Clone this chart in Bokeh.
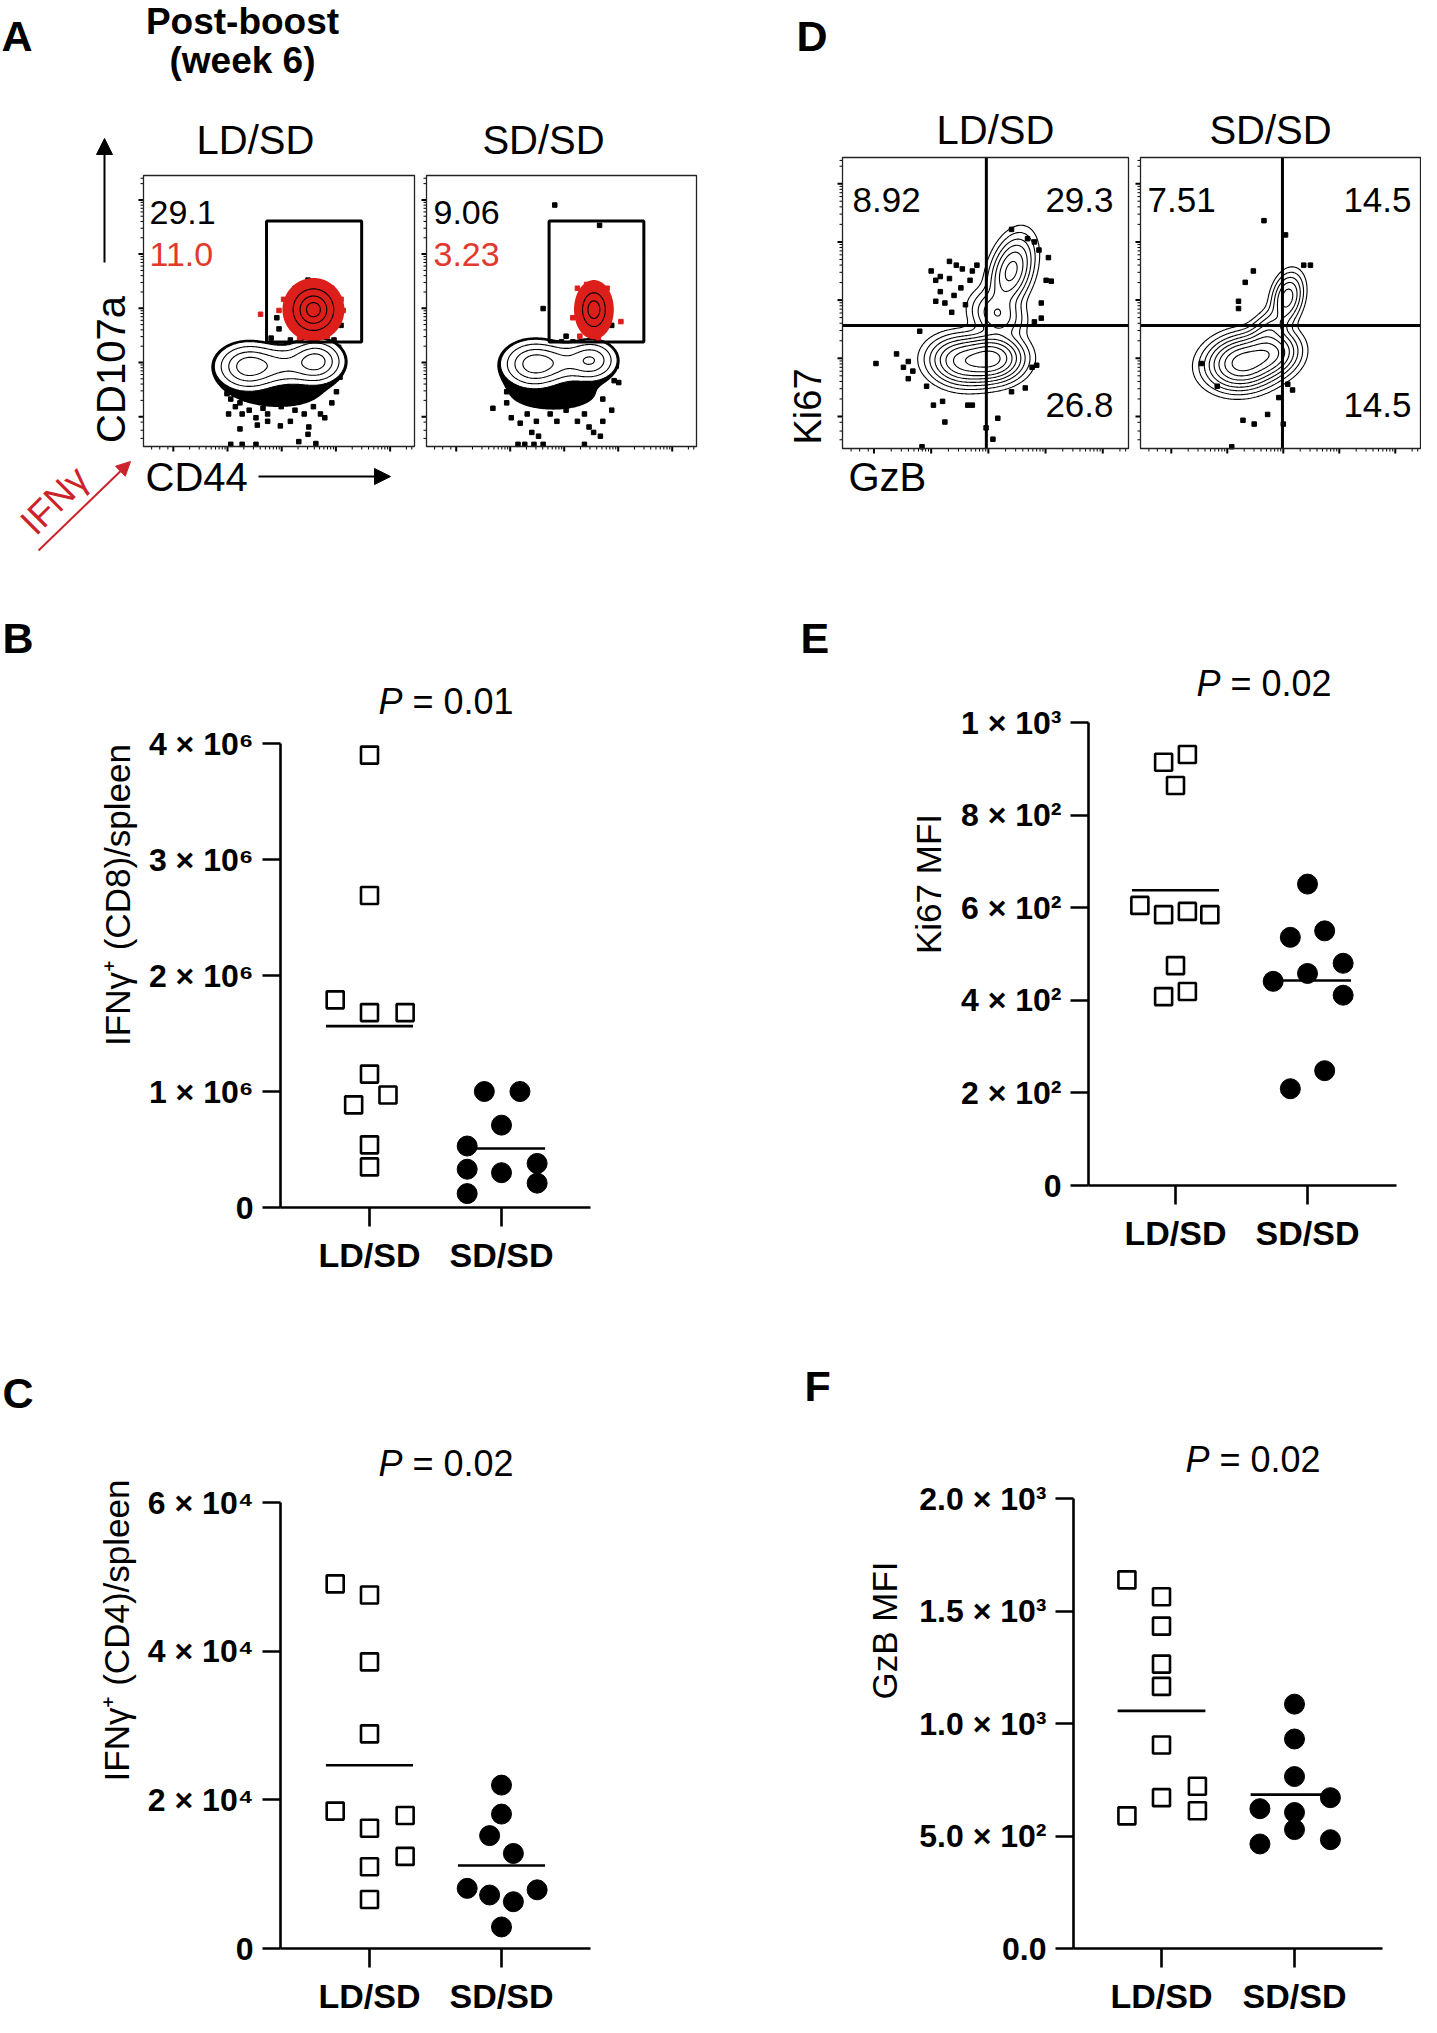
import numpy as np
from bokeh.plotting import figure
from bokeh.layouts import row, column
from bokeh.models import Label, Range1d, FixedTicker, Arrow, NormalHead
from bokeh.embed import file_html
from bokeh.resources import INLINE

FONT = "Liberation Sans"

# ---------------- scatter data (panels B, C, E, F) ----------------
groups = ["LD/SD", "SD/SD"]

b_ld = [3.90e6, 2.69e6, 1.79e6, 1.68e6, 1.68e6, 1.15e6, 0.97e6, 0.885e6, 0.54e6, 0.35e6]
b_sd = [1.00e6, 1.00e6, 0.71e6, 0.53e6, 0.33e6, 0.30e6, 0.38e6, 0.21e6, 0.12e6]
c_ld = [4.91e4, 4.76e4, 3.86e4, 2.89e4, 1.85e4, 1.79e4, 1.62e4, 1.24e4, 1.10e4, 0.66e4]
c_sd = [2.20e4, 1.81e4, 1.52e4, 1.28e4, 0.81e4, 0.72e4, 0.63e4, 0.79e4, 0.29e4]
e_ld = [914, 931, 864, 605, 585, 592, 585, 475, 419, 408]
e_sd = [651, 536, 550, 480, 458, 441, 411, 248, 209]
f_ld = [1640, 1565, 1434, 1265, 1166, 905, 722, 671, 613, 590]
f_sd = [1087, 932, 765, 671, 622, 605, 529, 465, 484]

# horizontal spread of the dots (fraction of category spacing)
b_ld_dx = [0, 0, -0.26, 0, 0.27, 0, 0.14, -0.12, 0, 0]
b_sd_dx = [-0.13, 0.14, 0, -0.26, -0.26, 0, 0.27, 0.27, -0.26]
c_ld_dx = [-0.26, 0, 0, 0, -0.26, 0.27, 0, 0.27, 0, 0]
c_sd_dx = [0, 0, -0.09, 0.09, -0.26, -0.09, 0.09, 0.27, 0]
e_ld_dx = [-0.09, 0.09, 0, -0.27, -0.09, 0.09, 0.26, 0, 0.09, -0.09]
e_sd_dx = [0, -0.13, 0.13, 0.27, 0, -0.26, 0.27, 0.13, -0.13]
f_ld_dx = [-0.26, 0, 0, 0, 0, 0, 0.27, 0, 0.27, -0.26]
f_sd_dx = [0, 0, 0, 0.27, -0.26, 0, 0, -0.26, 0.27]

b_ticks = [0, 1000000, 2000000, 3000000, 4000000]
b_tick_labels = ["0", "1 × 10⁶", "2 × 10⁶", "3 × 10⁶", "4 × 10⁶"]
c_ticks = [0, 20000, 40000, 60000]
c_tick_labels = ["0", "2 × 10⁴", "4 × 10⁴", "6 × 10⁴"]
e_ticks = [0, 200, 400, 600, 800, 1000]
e_tick_labels = ["0", "2 × 10²", "4 × 10²", "6 × 10²", "8 × 10²", "1 × 10³"]
f_ticks = [0, 500, 1000, 1500, 2000]
f_tick_labels = ["0.0", "5.0 × 10²", "1.0 × 10³", "1.5 × 10³", "2.0 × 10³"]

p_values = ["0.01", "0.02", "0.02", "0.02"]  # B, C, E, F

# ---------------- flow cytometry data (panels A, D) ----------------
# populations: (centre x, centre y, sd along u, sd along v, weight, angle deg)
a_ld_main = [(38.6, 29.5, 5.5, 4.0, 1.0, 0), (63.6, 31.4, 4.8, 3.8, 0.95, 0), (51.0, 30.0, 7.0, 3.6, 0.45, 0)]
a_ld_tail = [(50.0, 20.0, 12.5, 4.6, 1.0, 0)]
a_ld_red = [(62.7, 50.5, 4.5, 4.6, 1.0, 0)]
a_sd_main = [(39.8, 30.4, 5.5, 4.0, 1.0, 0), (61.0, 31.8, 4.5, 3.5, 0.75, 0), (50.0, 31.0, 6.5, 3.5, 0.4, 0)]
a_sd_tail = [(47.0, 19.5, 13.0, 5.0, 1.0, 0)]
a_sd_red = [(62.0, 50.5, 2.9, 4.3, 1.0, 0)]
d_ld_pops = [(42.0, 30.0, 6.0, 4.2, 0.75, -5), (52.5, 31.0, 5.5, 4.0, 1.0, 0),
             (59.0, 61.0, 6.5, 3.6, 0.55, 72), (54.0, 46.0, 4.0, 5.0, 0.3, 60)]
d_sd_pops = [(36.5, 29.5, 6.5, 4.5, 1.0, 8), (47.0, 33.0, 5.0, 4.0, 0.55, 10),
             (52.5, 52.0, 4.5, 2.8, 0.35, 75), (46.0, 41.0, 5.0, 3.0, 0.18, 45)]

a_ld_dots = [(28.3, 27.0), (29.3, 22.9), (30.8, 19.5), (32.2, 17.5), (33.9, 14.7), (35.6, 16.1), (36.4, 12.0),
             (39.0, 13.4), (38.1, 17.5), (41.5, 10.6), (44.1, 14.1), (45.8, 12.0), (48.3, 16.8), (50.8, 14.7),
             (52.5, 17.5), (55.9, 13.4), (59.3, 12.0), (62.7, 14.7), (65.3, 12.0), (66.9, 10.6), (69.5, 16.1),
             (71.2, 20.2), (72.5, 25.6), (73.2, 31.1), (72.0, 36.6), (35.6, 6.5), (42.0, 7.9), (50.5, 7.6),
             (61.0, 7.2), (60.7, 4.5), (63.6, 1.1), (57.3, 1.8), (32.2, 0.8), (36.4, 0.8), (41.5, 0.8),
             (45.8, 9.3), (54.2, 9.3), (31.4, 12.0), (60.7, 61.4), (49.2, 47.5), (47.1, 40.0), (50.0, 43.4),
             (54.2, 39.3), (72.9, 44.7), (72.4, 48.8), (45.8, 36.6), (48.3, 37.9), (66.1, 37.9), (70.3, 39.3)]
a_ld_red_dots = [(43.2, 48.8), (51.7, 54.3), (50.0, 50.2), (72.9, 54.3), (73.7, 50.2), (69.5, 58.4),
                 (55.9, 58.4), (62.7, 39.3), (57.6, 40.0), (67.8, 40.7)]
a_sd_dots = [(43.2, 50.9), (51.7, 40.7), (50.0, 38.6), (54.2, 38.6), (68.6, 44.7), (71.2, 23.6), (47.5, 89.1),
             (64.1, 81.6), (24.6, 14.1), (29.7, 16.1), (31.4, 10.6), (34.7, 8.6), (37.3, 12.0), (39.0, 5.2),
             (40.7, 9.3), (41.5, 3.8), (45.8, 12.0), (48.3, 9.3), (51.7, 13.4), (55.9, 9.3), (58.5, 12.0),
             (60.2, 7.2), (61.9, 5.2), (64.4, 3.8), (65.3, 9.3), (68.6, 13.4), (33.9, 0.8), (36.4, 0.8),
             (39.8, 0.8), (43.2, 0.8), (58.5, 0.8), (28.8, 25.6), (29.7, 20.2), (69.5, 24.3), (70.3, 29.7),
             (44.9, 17.5), (55.1, 17.5), (36.4, 17.5), (65.3, 17.5)]
a_sd_red_dots = [(55.9, 58.4), (66.9, 58.4), (67.8, 48.8), (72.0, 46.1), (56.8, 40.7), (63.6, 40.0),
                 (54.2, 47.5), (59.3, 59.8)]
d_ld_dots = [(59.1, 75.3), (64.7, 72.1), (67.1, 71.0), (68.7, 68.2), (72.0, 65.6), (71.2, 57.8), (73.0, 57.5),
             (69.5, 50.0), (69.5, 44.8), (67.1, 43.5), (31.0, 61.0), (32.6, 57.8), (34.2, 59.1), (37.4, 64.3),
             (39.8, 63.0), (41.9, 61.7), (37.4, 58.4), (41.4, 55.2), (44.6, 57.8), (32.6, 50.6), (35.8, 50.0),
             (38.2, 46.8), (39.0, 52.6), (43.0, 49.4), (34.2, 53.9), (45.4, 61.0), (47.0, 63.0), (18.9, 32.5),
             (11.7, 29.2), (23.0, 29.9), (21.3, 27.9), (24.6, 26.6), (23.0, 24.0), (29.4, 21.4), (31.8, 14.9),
             (35.0, 16.2), (35.8, 9.1), (43.8, 14.9), (45.4, 14.9), (50.2, 7.1), (52.6, 3.2), (54.3, 10.4),
             (59.1, 19.5), (63.9, 20.8), (66.3, 27.9), (67.9, 28.6), (27.8, 0.6), (27.0, 40.3)]
d_sd_dots = [(44.1, 78.3), (51.8, 73.4), (58.3, 63.0), (60.7, 63.0), (40.3, 61.0), (37.4, 57.1), (35.0, 50.6),
             (35.0, 48.1), (21.7, 29.2), (27.4, 21.4), (36.6, 9.7), (40.6, 8.4), (45.4, 11.7), (49.4, 17.5),
             (54.3, 20.1), (51.0, 8.4), (52.6, 22.1), (32.6, 0.6)]

a_gate_x = [45.4, 80.5]
a_gate_y = [38.6, 83.2]
d_ld_quadrant = [50.3, 42.3]
d_sd_quadrant = [50.7, 42.3]
a_ld_pct = ["29.1", "11.0"]
a_sd_pct = ["9.06", "3.23"]
d_ld_pct = ["8.92", "29.3", "26.8"]
d_sd_pct = ["7.51", "14.5", "14.5"]

RED = "#dc1f1a"
RED_TXT = "#e2392c"
RED_ARROW = "#cc2229"

GRID = np.linspace(0, 100, 251)
GX, GY = np.meshgrid(GRID, GRID)


def density(params):
    z = np.zeros_like(GX)
    for cx, cy, su, sv, w, th in params:
        t = np.deg2rad(th)
        dx, dy = GX - cx, GY - cy
        u = dx * np.cos(t) + dy * np.sin(t)
        v = -dx * np.sin(t) + dy * np.cos(t)
        z += w * np.exp(-0.5 * ((u / su) ** 2 + (v / sv) ** 2))
    return z / z.max()


class Frame:
    """Maps page pixel positions (screenshot coordinates) to a figure's data coordinates."""

    def __init__(self, fl, fr, ft, fb, x0, x1, y0, y1):
        self.fl, self.fr, self.ft, self.fb = fl, fr, ft, fb
        self.x0, self.x1, self.y0, self.y1 = x0, x1, y0, y1

    def x(self, X):
        return self.x0 + (X - self.fl) / (self.fr - self.fl) * (self.x1 - self.x0)

    def y(self, Y):
        return self.y0 + (self.fb - Y) / (self.fb - self.ft) * (self.y1 - self.y0)

    def dx(self, px):
        return px / (self.fr - self.fl) * (self.x1 - self.x0)

    def dy(self, px):
        return px / (self.fb - self.ft) * (self.y1 - self.y0)


def text(p, fr, X, Y, s, size, align="left", bold=False, italic=False, color="black", angle=0.0):
    style = "bold" if bold else ("italic" if italic else "normal")
    p.add_layout(Label(x=fr.x(X), y=fr.y(Y), text=s, text_font=FONT, text_font_size=f"{size}px",
                       text_font_style=style, text_color=color, text_align=align,
                       text_baseline="middle", angle=angle))


def plain_fig(fig_w, fig_h, fr, bottom=0):
    p = figure(width=fig_w, height=fig_h, x_range=Range1d(fr.x0, fr.x1), y_range=Range1d(fr.y0, fr.y1),
               x_axis_location=None, y_axis_location=None,
               min_border_left=0, min_border_right=0, min_border_top=0, min_border_bottom=bottom,
               output_backend="svg", toolbar_location=None)
    p.grid.visible = False
    p.outline_line_color = None
    p.background_fill_color = "white"
    p.border_fill_color = "white"
    return p


# ---------------- flow panels ----------------
flow_major = [11, 31, 51, 71, 91]
flow_minor = [3, 6, 9] + [d + 20 * np.log10(k) for d in [11, 31, 51, 71] for k in range(2, 10)] + [97, 99]


def flow_fig(fig_x, fig_y, fig_w, fig_h, bl, br, bt, bb):
    sx = (br - bl) / 100.0
    sy = (bb - bt) / 100.0
    fr = Frame(fig_x, fig_x + fig_w, fig_y, fig_y + fig_h,
               -(bl - fig_x) / sx, 100 + (fig_x + fig_w - br) / sx,
               -(fig_y + fig_h - bb) / sy, 100 + (bt - fig_y) / sy)
    p = plain_fig(fig_w, fig_h, fr)
    # tick marks outside the left and bottom edges of the box
    for vals, ln, w in ((flow_major, 5, 2), (flow_minor, 3, 1)):
        p.segment(x0=[-fr.dx(ln)] * len(vals), x1=[0] * len(vals), y0=vals, y1=vals,
                  line_color="black", line_width=w)
        p.segment(x0=vals, x1=vals, y0=[-fr.dy(ln)] * len(vals), y1=[0] * len(vals),
                  line_color="black", line_width=w)
    return p, fr


def box_outline(p):
    p.quad(left=[0], right=[100], bottom=[0], top=[100], fill_color=None, line_color="#222222", line_width=1.3)


def pts(lst):
    return [a for a, b in lst], [b for a, b in lst]


def draw_a(p, main, tail, red, dots, red_dots, red_levels):
    zm = density(main)
    zt = density(tail)
    zb = zt + zm / 0.045 * 0.5
    p.contour(GRID, GRID, zb, levels=[0.5, float(zb.max()) + 1], fill_color="black", line_color=None)
    x, y = pts(dots)
    p.scatter(x, y, marker="square", size=4.5, color="black")
    p.contour(GRID, GRID, zm, levels=[0.07, 2.0], fill_color="white", line_color=None)
    p.contour(GRID, GRID, zm, levels=[0.07, 0.18, 0.4, 0.7], line_color="black", line_width=1.1)
    zr = density(red)
    x, y = pts(red_dots)
    p.scatter(x, y, marker="square", size=4.5, color=RED)
    p.contour(GRID, GRID, zr, levels=[0.04, 2.0], fill_color=RED, line_color=None)
    p.contour(GRID, GRID, zr, levels=red_levels, line_color="black", line_width=1.1)
    p.quad(left=[a_gate_x[0]], right=[a_gate_x[1]], bottom=[a_gate_y[0]], top=[a_gate_y[1]],
           fill_color=None, line_color="black", line_width=3)
    box_outline(p)


def draw_d(p, pops, dots, quad):
    z = density(pops)
    x, y = pts(dots)
    p.scatter(x, y, marker="square", size=4.5, color="black")
    p.contour(GRID, GRID, z, levels=[0.02, 0.05, 0.1, 0.17, 0.27, 0.4, 0.58, 0.8],
              line_color="black", line_width=1.1)
    p.segment(x0=[quad[0], 0], x1=[quad[0], 100], y0=[0, quad[1]], y1=[100, quad[1]],
              line_color="black", line_width=3)
    box_outline(p)


def arrow(p, fr, X0, Y0, X1, Y1, color, size=16):
    p.add_layout(Arrow(end=NormalHead(size=size, fill_color=color, line_color=color),
                       x_start=fr.x(X0), y_start=fr.y(Y0), x_end=fr.x(X1), y_end=fr.y(Y1),
                       line_color=color, line_width=2))


# Panel A, LD/SD
pa1, fa1 = flow_fig(8, 8, 420, 582, 151, 422, 183, 454)
draw_a(pa1, a_ld_main, a_ld_tail, a_ld_red, a_ld_dots, a_ld_red_dots, [0.25, 0.55, 0.85])
text(pa1, fa1, 9, 43, "A", 43, bold=True)
text(pa1, fa1, 250, 29, "Post-boost", 37, align="center", bold=True)
text(pa1, fa1, 250, 68, "(week 6)", 37, align="center", bold=True)
text(pa1, fa1, 263, 147, groups[0], 40, align="center")
text(pa1, fa1, 157, 220, a_ld_pct[0], 34)
text(pa1, fa1, 157, 262, a_ld_pct[1], 34, color=RED_TXT)
text(pa1, fa1, 118, 377, "CD107a", 40, align="center", angle=np.pi / 2)
text(pa1, fa1, 153, 484, "CD44", 40)
text(pa1, fa1, 62, 508, "IFNγ", 37, align="center", color=RED_ARROW, angle=np.pi / 4)
arrow(pa1, fa1, 112, 270, 112, 146, "black")
arrow(pa1, fa1, 266, 484, 398, 484, "black")
arrow(pa1, fa1, 46, 558, 138, 469, RED_ARROW, size=14)

# Panel A, SD/SD
pa2, fa2 = flow_fig(428, 8, 290, 582, 434, 704, 183, 454)
draw_a(pa2, a_sd_main, a_sd_tail, a_sd_red, a_sd_dots, a_sd_red_dots, [0.35, 0.75])
text(pa2, fa2, 551, 147, groups[1], 40, align="center")
text(pa2, fa2, 441, 220, a_sd_pct[0], 34)
text(pa2, fa2, 441, 262, a_sd_pct[1], 34, color=RED_TXT)

# Panel D, LD/SD
pd1, fd1 = flow_fig(718, 8, 424, 582, 850, 1136, 165, 456)
draw_d(pd1, d_ld_pops, d_ld_dots, d_ld_quadrant)
text(pd1, fd1, 804, 43, "D", 43, bold=True)
text(pd1, fd1, 1003, 137, groups[0], 40, align="center")
text(pd1, fd1, 860, 207, d_ld_pct[0], 35)
text(pd1, fd1, 1121, 207, d_ld_pct[1], 35, align="right")
text(pd1, fd1, 1121, 412, d_ld_pct[2], 35, align="right")
text(pd1, fd1, 815, 414, "Ki67", 38, align="center", angle=np.pi / 2)
text(pd1, fd1, 856, 484, "GzB", 40)

# Panel D, SD/SD
pd2, fd2 = flow_fig(1142, 8, 287, 582, 1148, 1428, 165, 456)
draw_d(pd2, d_sd_pops, d_sd_dots, d_sd_quadrant)
text(pd2, fd2, 1278, 137, groups[1], 40, align="center")
text(pd2, fd2, 1155, 207, d_sd_pct[0], 35)
text(pd2, fd2, 1419, 207, d_sd_pct[1], 35, align="right")
text(pd2, fd2, 1419, 412, d_sd_pct[2], 35, align="right")


# ---------------- scatter panels ----------------
def letter_fig(fig_x, fig_y, fig_w, fig_h, zero_px, letter, X, Y):
    # same bottom border as the neighbouring scatter panel so the row keeps its frames aligned
    fr = Frame(fig_x, fig_x + fig_w, fig_y, zero_px, 0, 1, 0, 1)
    p = plain_fig(fig_w, fig_h, fr, bottom=fig_y + fig_h - zero_px)
    p.scatter([0.5], [0.5], size=0, alpha=0)
    text(p, fr, X, Y, letter, 43, bold=True)
    return p


def scatter_panel(fig_x, fig_y, fig_w, fig_h, axis_x, axis_end, top_px, zero_px, cat1, cat2, ymax,
                  ld, ld_dx, sd, sd_dx, ticks, tick_labels, ylabel, als, pval, p_right, p_y):
    unit = cat2 - cat1
    x0 = 1 - (cat1 - axis_x) / unit
    x1 = x0 + (fig_x + fig_w - axis_x) / unit
    y1 = ymax * (zero_px - fig_y) / (zero_px - top_px)
    fr = Frame(axis_x, fig_x + fig_w, fig_y, zero_px, x0, x1, 0, y1)
    p = figure(width=fig_w, height=fig_h, x_range=Range1d(x0, x1), y_range=Range1d(0, y1),
               min_border_left=axis_x - fig_x, min_border_right=0, min_border_top=0,
               min_border_bottom=fig_y + fig_h - zero_px, output_backend="svg", toolbar_location=None)
    p.grid.visible = False
    p.outline_line_color = None
    p.background_fill_color = "white"
    p.border_fill_color = "white"

    xa = p.xaxis[0]
    xa.ticker = FixedTicker(ticks=[1, 2], minor_ticks=[])
    xa.major_label_overrides = {1: groups[0], 2: groups[1]}
    xa.bounds = (x0, x0 + (axis_end - axis_x) / unit)
    ya = p.yaxis[0]
    ya.ticker = FixedTicker(ticks=ticks, minor_ticks=[])
    ya.major_label_overrides = {t: s for t, s in zip(ticks, tick_labels)}
    ya.bounds = (0, ymax)
    for ax in (xa, ya):
        ax.axis_line_width = 2.6
        ax.axis_line_color = "black"
        ax.major_tick_line_width = 2.6
        ax.major_tick_line_color = "black"
        ax.major_tick_in = 0
        ax.major_tick_out = 18
        ax.minor_tick_out = 0
        ax.minor_tick_in = 0
        ax.major_label_text_font = FONT
        ax.major_label_text_font_style = "bold"
        ax.major_label_text_color = "black"
    xa.major_label_text_font_size = "34px"
    ya.major_label_text_font_size = "32px"
    xa.major_tick_out = 19
    xa.major_label_standoff = 9
    ya.major_label_standoff = 9
    ya.axis_label = ylabel
    ya.axis_label_text_font = FONT
    ya.axis_label_text_font_size = "35px"
    ya.axis_label_text_font_style = "normal"
    ya.axis_label_text_color = "black"
    ya.axis_label_standoff = als

    xs_ld = [1 + d for d in ld_dx]
    xs_sd = [2 + d for d in sd_dx]
    p.segment(x0=[0.67, 1.67], x1=[1.33, 2.33], y0=[np.mean(ld), np.mean(sd)], y1=[np.mean(ld), np.mean(sd)],
              line_color="black", line_width=2.6)
    p.scatter(xs_ld, ld, marker="square", size=17, fill_color="white", line_color="black", line_width=2.6)
    p.scatter(xs_sd, sd, marker="circle", size=20, fill_color="black", line_color="black")

    text(p, fr, p_right, p_y, "P", 36, align="right", italic=True)
    text(p, fr, p_right + 10, p_y, "= " + pval, 36)
    return p


lb = letter_fig(8, 590, 52, 730, 1215, "B", 10, 645)
pb = scatter_panel(60, 590, 658, 730, 288, 598, 751, 1215, 377, 509, 4e6, b_ld, b_ld_dx, b_sd, b_sd_dx,
                   b_ticks, b_tick_labels, "IFNγ⁺ (CD8)/spleen", 9, p_values[0], 410, 709)
lc = letter_fig(8, 1320, 52, 705, 1958, "C", 10, 1401)
pc = scatter_panel(60, 1320, 658, 705, 288, 598, 1511, 1958, 377, 509, 6e4, c_ld, c_ld_dx, c_sd, c_sd_dx,
                   c_ticks, c_tick_labels, "IFNγ⁺ (CD4)/spleen", 9, p_values[1], 410, 1471)
le = letter_fig(718, 590, 142, 730, 1193, "E", 808, 645)
pe = scatter_panel(860, 590, 569, 730, 1096, 1404, 730, 1193, 1183, 1315, 1000, e_ld, e_ld_dx, e_sd, e_sd_dx,
                   e_ticks, e_tick_labels, "Ki67 MFI", 10, p_values[2], 1228, 691)
lf = letter_fig(718, 1320, 142, 705, 1958, "F", 812, 1394)
pf = scatter_panel(860, 1320, 569, 705, 1081, 1390, 1507, 1958, 1169, 1302, 2000, f_ld, f_ld_dx, f_sd, f_sd_dx,
                   f_ticks, f_tick_labels, "GzB MFI", 12, p_values[3], 1217, 1467)

left_col = column(row(pa1, pa2), row(lb, pb), row(lc, pc))
right_col = column(row(pd1, pd2), row(le, pe), row(lf, pf))
layout = row(left_col, right_col)
open("out.html", "w").write(file_html(layout, INLINE))
